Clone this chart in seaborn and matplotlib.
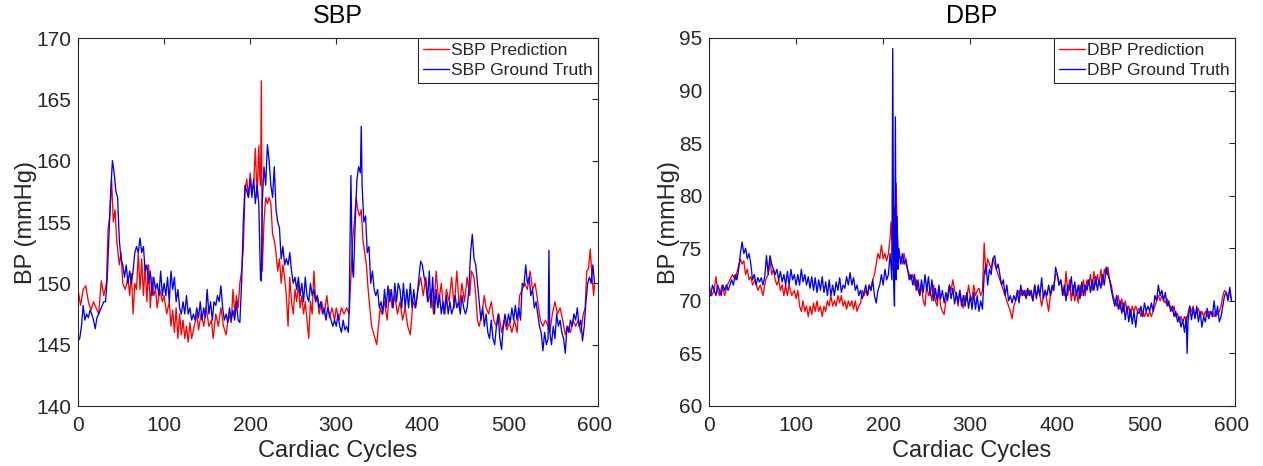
import matplotlib
matplotlib.use("Agg")
import matplotlib.pyplot as plt
import seaborn as sns
import pandas as pd

# ---------------- data (cycle, mmHg) ----------------
sbp_prediction = [
    (0,149.5),(3,148.2),(6,149.5),(9,149.8),(12,148.5),(15,147.8),(18,148.5),(21,148),(24,147.5),(27,150.2),
    (30,149),(33,150),(35,154.5),(37,155.5),(39,158.5),(41,155),(43,156),(45,153.5),(48,151.5),(50,152.5),
    (52,150),(55,149.5),(58,150.5),(60,149),(62,150.8),(64,147.5),(66,150),(68,149.5),(70,152.5),(72,149.5),
    (74,152),(76,149),(78,151.5),(80,148.5),(82,151.5),(84,148),(86,150.5),(88,149),(90,149.5),(92,148),
    (95,149.5),(98,148.5),(100,149),(103,147.5),(106,148.5),(108,146.5),(110,147.8),(112,146),(114,148),(116,145.5),
    (118,147.5),(120,145.8),(122,147),(124,145.5),(126,146.5),(128,145.2),(130,146.8),(132,145.5),(135,146.5),(138,147.5),
    (140,146.2),(143,147.5),(146,146.5),(149,148),(152,146.5),(155,147),(157,145.5),(160,147.5),(163,146.5),(166,148),
    (169,146.5),(172,145.8),(175,147.5),(178,146.8),(180,149.5),(182,147.5),(184,149),(186,148),(188,150),(190,151),
    (192,152.8),(194,157.5),(196,158.5),(198,157),(200,159),(202,157.5),(204,158),(206,161),(208,157),(210,161.2),
    (211,159),(212,158),(213,166.5),(214,151),(216,155),(218,157),(220,156.5),(222,157),(224,156.5),(226,154),
    (228,153.5),(230,152.5),(232,151),(234,152),(236,150),(238,151.5),(240,150.5),(242,149),(244,146.5),(246,150.5),
    (248,148.5),(250,147.5),(252,149.5),(254,148.5),(256,150),(258,148),(260,149),(262,147.5),(264,148.5),(266,147),
    (268,145.5),(270,148.5),(272,147.5),(274,151),(276,148.5),(278,149),(280,147.5),(283,148.5),(286,147.5),(289,149),
    (292,147.2),(295,148),(298,147),(300,148),(303,147),(306,148),(309,147.5),(312,148),(315,147.5),(317,150.5),
    (319,153.5),(321,155),(323,157),(325,156),(327,155.5),(329,156),(331,153.5),(333,152.5),(335,151.5),(337,149.5),
    (339,148),(341,146.5),(343,146),(345,145.5),(347,145),(349,146.5),(351,148),(353,147.5),(356,148.5),(359,147),
    (362,149.5),(365,148),(368,149),(371,147.5),(374,148.5),(377,147),(380,148),(383,146.5),(386,145.8),(389,148.5),
    (392,148),(395,149.5),(398,150.5),(401,149),(404,150.5),(407,148.5),(410,149.5),(413,147.5),(416,151),(419,148.5),
    (422,150),(425,147.5),(428,149.5),(431,148.5),(434,150.5),(437,148),(440,151),(443,148),(446,150),(449,148.5),
    (452,150.5),(455,149),(457,151),(460,150.5),(462,149),(464,147),(466,146.5),(469,147.5),(472,149),(474,148),
    (477,147.5),(480,148.5),(483,147),(486,146.5),(489,147.5),(492,146),(495,147),(498,146.2),(501,146.8),(504,146),
    (507,147),(510,146),(513,149),(516,149.5),(519,150),(522,149.5),(525,151),(528,149.5),(531,150),(534,148.5),
    (537,147),(540,146.5),(543,147),(546,146.5),(548,146),(551,147.5),(554,148.5),(557,147.5),(560,148),(563,147),
    (566,145.8),(569,146.5),(572,146),(575,147),(578,146.5),(581,147),(584,146),(587,147.5),(589,148),(591,151),
    (593,151.2),(595,152.8),(597,150.5),(599,149),(600,150),
]

sbp_ground_truth = [
    (0,145.3),(2,145.5),(4,146.5),(6,148.2),(8,147),(10,147.5),(12,147.2),(14,147.8),(16,147.5),(18,147),
    (20,146.3),(22,147.2),(24,147.5),(27,148),(30,148.5),(32,148.5),(34,150.5),(36,154),(38,157.5),(40,160),
    (42,159),(44,157.5),(46,157),(48,153.5),(50,152),(52,151.5),(54,150.5),(56,151.5),(58,150),(60,151),
    (62,150),(64,151),(66,152.5),(68,153),(70,152.5),(72,153.7),(74,152.5),(76,153),(78,151),(80,151.5),
    (82,150),(84,151),(86,149),(88,150.5),(90,149.5),(92,150),(94,149),(96,151),(98,149),(100,150),
    (102,149),(104,150.5),(106,148.5),(108,151),(110,149.5),(112,150.5),(114,148.5),(116,149.5),(118,148),(120,147.5),
    (122,148.5),(124,147.5),(126,149),(128,147.5),(130,148),(132,147),(134,147.5),(136,147),(138,148),(140,147.2),
    (142,148.5),(144,147),(146,148),(148,147.2),(150,149.5),(152,147.5),(154,148.5),(156,147),(158,148.5),(160,148.2),
    (162,149),(164,148.5),(166,149.8),(168,148),(170,147),(172,147.5),(174,146.8),(176,148),(178,147),(180,147.8),
    (182,147),(184,148.5),(186,147),(188,146.8),(190,150),(192,155),(194,158),(196,157.5),(198,157),(200,158.5),
    (202,157),(204,158.5),(206,156.5),(208,158),(210,156.5),(212,150.3),(213,150.2),(214,156.5),(216,159.5),(218,158),
    (220,161.3),(222,160),(224,158),(226,157),(228,159.5),(230,156),(232,155),(234,154.5),(236,152),(238,153),
    (240,151.5),(242,152),(244,151.5),(246,152.5),(248,151),(250,150),(252,150.5),(254,149.5),(256,150.5),(258,149),
    (260,150),(262,148.5),(264,150.5),(266,149),(268,148.5),(270,150),(272,149),(274,149.5),(276,148.5),(278,149),
    (280,148),(282,148.5),(284,147.5),(286,148),(288,147),(290,148),(292,147.5),(294,147),(296,146.5),(298,147),
    (300,146.5),(302,147.5),(304,146.5),(306,146),(308,147),(310,146.2),(312,146.5),(314,146),(315,148),(317,158.8),
    (318,154),(319,151),(320,150.5),(322,155),(324,158.5),(326,159.5),(328,159),(329,162.8),(330,158),(332,155),
    (334,155.5),(336,152.5),(338,153),(340,150),(342,151),(344,149.5),(346,149),(348,149.5),(350,148),(352,148.5),
    (354,147.5),(356,149.5),(358,148),(360,149.8),(362,148.5),(364,149.5),(366,148),(368,150),(370,148.5),(372,150),
    (374,149.5),(376,148),(378,150),(380,148),(382,149.5),(384,148),(386,150),(388,148),(390,149.5),(392,148),
    (394,149),(396,150.5),(398,151.8),(400,151.5),(402,150.5),(404,150),(406,148.5),(408,151),(410,148),(412,150.5),
    (414,147.5),(416,149.5),(418,148),(420,149),(422,147.5),(424,148.5),(426,147.5),(428,149),(430,147.5),(432,148.5),
    (434,147.5),(436,148),(438,149),(440,148),(442,148.5),(444,147.5),(446,149),(448,148),(450,147.5),(452,148),
    (454,149.5),(456,152.5),(458,154),(460,152),(462,151.5),(464,150),(466,148.5),(468,147),(470,148),(472,146.5),
    (474,147.5),(476,146),(478,145.5),(480,147),(482,145.5),(484,145),(486,146.5),(488,147.5),(490,145.5),(492,144.6),
    (494,146.5),(496,147.5),(498,146.5),(500,147.5),(502,146.8),(504,148),(506,147),(508,148.2),(510,147),(512,148),
    (514,147),(516,150),(518,149.8),(520,151.5),(522,150),(524,150.5),(526,149),(528,149.5),(530,148),(532,148.5),
    (534,147.5),(536,146.5),(538,146),(540,144.5),(542,146),(544,145),(546,145.5),(547,152.7),(548,146),(550,145),
    (552,146.5),(554,145.5),(556,147.5),(558,146.5),(560,147),(562,146),(564,145.5),(566,144.3),(568,146.5),(570,146),
    (572,147),(574,146.5),(576,147.5),(578,147),(580,148),(582,146.5),(584,147),(586,145.3),(588,146.5),(590,148.5),
    (592,150),(594,150.5),(596,150),(598,151.5),(600,150),
]

dbp_prediction = [
    (0,71.5),(3,70.5),(6,71),(8,72.3),(10,71),(12,70.5),(15,71.5),(18,70.5),(21,71.5),(24,72),
    (27,72.5),(30,72),(33,73),(36,74),(38,73.5),(40,73.8),(42,72.5),(44,73),(46,72),(48,72.3),
    (50,71.5),(53,72),(56,71),(59,71.5),(62,70.5),(65,72),(68,72.5),(70,74),(72,72.5),(74,73),
    (76,72),(78,71.5),(80,72),(82,71),(84,71.5),(86,70.5),(88,71.5),(90,70.5),(92,71.5),(95,70.5),
    (98,71),(100,70.2),(102,71),(104,69.5),(106,69),(108,70),(110,69),(112,69.5),(114,68.5),(116,69.5),
    (118,68.7),(120,69.8),(122,69),(124,70),(126,69),(128,69.5),(130,68.5),(132,69.5),(134,69),(136,70),
    (138,69.5),(140,70.5),(142,69.5),(144,70),(146,69.5),(148,70.5),(150,69.8),(152,70.5),(154,69.5),(156,70),
    (158,69.2),(160,70),(162,69.5),(164,70),(166,69.2),(168,70),(170,69),(172,69.5),(174,69.8),(176,71),
    (178,70.5),(180,71),(182,70.5),(184,71.5),(186,71),(188,72),(190,72.5),(192,73.5),(194,74.5),(196,74),
    (198,75.3),(200,74),(202,74.5),(204,73.8),(206,74.5),(208,76),(209,77.5),(210,76),(211,73),(212,74),
    (213,79),(214,75),(215,81.2),(216,77),(217,75),(218,74.5),(220,74),(222,73.5),(224,74.5),(226,73.5),
    (228,73),(230,72.5),(232,72),(234,72.5),(236,71.5),(238,72),(240,71),(242,70.5),(244,71.5),(246,70),
    (248,69.5),(250,71.5),(252,70.5),(254,71),(256,70),(258,71.5),(260,70),(262,69.5),(264,71),(266,69.5),
    (268,69),(270,68.7),(272,70),(274,70.5),(276,71.5),(278,71),(280,72),(282,71),(284,70.5),(286,69.5),
    (288,71),(290,70),(292,69.3),(294,70.5),(296,70),(298,71.5),(300,70.5),(302,70),(304,71.5),(306,70.5),
    (308,71),(310,71.2),(312,70.5),(314,71),(316,75.5),(318,72.5),(320,74),(322,73.5),(324,73),(326,74),
    (328,73.5),(330,73),(332,72.5),(334,72),(336,71.5),(338,71),(340,70.5),(342,70),(344,69.5),(346,69),
    (348,68.3),(350,69.5),(352,70),(354,70.5),(356,71),(358,70.5),(360,71),(362,70.5),(364,71),(366,70.5),
    (368,71),(370,70.5),(372,70),(374,71.5),(376,70.5),(378,71),(380,70.5),(382,69.5),(384,70.5),(386,71),
    (388,70),(390,69),(392,70.5),(394,71),(396,71.5),(398,72.5),(400,72.5),(402,71.5),(404,72),(406,71),
    (408,70.5),(410,72.8),(412,70.5),(414,72),(416,70),(418,71.5),(420,70),(422,71),(424,69.8),(426,71.5),
    (428,70.5),(430,72),(432,70.5),(434,72),(436,71.5),(438,72.5),(440,71),(442,72.8),(444,71.5),(446,72.5),
    (448,71.5),(450,73),(452,71.5),(454,73),(456,72.5),(458,73.2),(460,72),(462,71.5),(464,70.5),(466,70),
    (468,69.5),(470,70.5),(472,69.2),(474,70.2),(476,69),(478,70),(480,69),(482,69.5),(484,68.5),(486,69.5),
    (488,69),(490,69.5),(492,69),(494,69.3),(496,68.5),(498,69),(500,68.5),(502,69),(504,68.5),(506,69),
    (508,68.5),(510,69),(512,69.5),(514,70),(516,70.5),(518,70),(520,70.5),(522,70),(524,69.8),(526,70.2),
    (528,69.5),(530,69.5),(532,69),(534,69.5),(536,68.5),(538,68.8),(540,68),(542,68.5),(544,68),(546,68.5),
    (548,68),(550,68.8),(552,69.5),(554,69),(556,69.5),(558,68.5),(560,69),(562,69.3),(564,68.5),(566,69),
    (568,68.5),(570,69),(572,68.5),(574,69),(576,68.8),(578,69),(580,68.5),(582,69),(584,68.7),(586,69),
    (588,69.5),(590,70.5),(592,71),(594,70.8),(596,70.2),(598,71),(600,70),
]

dbp_ground_truth = [
    (0,70.5),(2,70.5),(4,71.5),(6,71),(8,70.5),(10,71.5),(12,71),(14,70.5),(16,71.5),(18,71),
    (20,71.5),(22,71),(24,71.5),(26,72),(28,71.5),(30,72.5),(32,72),(34,73),(36,74.5),(38,75.6),
    (40,74.5),(42,75),(44,74),(46,74.5),(48,73.5),(50,72),(52,72.5),(54,71.5),(56,72.2),(58,71.8),
    (60,72.2),(62,71.5),(64,72.3),(66,74.3),(68,72.5),(70,74.3),(72,73.5),(74,73),(76,72.5),(78,73),
    (80,72),(82,72.8),(84,71.8),(86,72.5),(88,71.5),(90,72.8),(92,71.5),(94,73),(96,72),(98,72.5),
    (100,71.5),(102,72.5),(104,71.5),(106,73),(108,71.8),(110,72.5),(112,71.5),(114,72.3),(116,71.2),(118,72.3),
    (120,71),(122,72.2),(124,70.8),(126,72),(128,71),(130,72.3),(132,70.8),(134,71.8),(136,70.5),(138,72),
    (140,70.5),(142,71.5),(144,70.5),(146,71.8),(148,71),(150,72.2),(152,70.8),(154,71.5),(156,71.2),(158,72.3),
    (160,71.5),(162,72.7),(164,71.5),(166,72.2),(168,71),(170,71.5),(172,70.5),(174,71),(176,70.2),(178,70.8),
    (180,71.5),(182,70.5),(184,71.5),(186,71),(188,72),(190,70.5),(192,69.8),(194,71),(196,71.5),(198,72.5),
    (200,71.5),(202,73),(204,72),(206,72.5),(208,74.5),(210,72),(211,94),(212,72),(213,69.5),(214,87.5),
    (215,72),(216,78),(217,73),(218,75),(220,73.5),(222,74.5),(224,73.5),(226,74),(228,73),(230,72),
    (232,72.5),(234,71.5),(236,72.5),(238,71),(240,72),(242,70.5),(244,72),(246,70.8),(248,72.5),(250,71),
    (252,72.3),(254,70.5),(256,72),(258,70),(260,71.2),(262,70),(264,71.5),(266,70.2),(268,71),(270,69.8),
    (272,70.8),(274,70),(276,71.5),(278,70.2),(280,71.2),(282,69.7),(284,70.8),(286,69.8),(288,71),(290,69.5),
    (292,70.5),(294,69.5),(296,70.8),(298,69.3),(300,70.5),(302,69.2),(304,70.8),(306,69.2),(308,70.5),(310,69),
    (312,70),(314,69.2),(316,72.5),(318,73.5),(320,71.5),(322,73),(324,72.5),(326,74),(328,74.3),(330,73),
    (332,73.5),(334,72.5),(336,71.5),(338,72),(340,70.5),(342,71.5),(344,70),(346,70.5),(348,69.8),(350,70.5),
    (352,70),(354,71),(356,69.8),(358,71.5),(360,70.5),(362,71),(364,70.2),(366,71.2),(368,70.5),(370,71),
    (372,70),(374,71.5),(376,70.2),(378,71.5),(380,70.5),(382,72.2),(384,70.2),(386,71),(388,70.5),(390,71.5),
    (392,70.5),(394,71.5),(396,71),(398,73.2),(400,72.5),(402,71.5),(404,72),(406,70.5),(408,71.5),(410,70),
    (412,71.5),(414,71),(416,72.3),(418,70.5),(420,71.8),(422,70.5),(424,71.5),(426,70.2),(428,71.8),(430,70.5),
    (432,71.5),(434,71),(436,72),(438,70.8),(440,72),(442,71),(444,72.3),(446,71),(448,72),(450,71.2),
    (452,72.5),(454,71.5),(456,73.2),(458,72.5),(460,72),(462,71),(464,70.2),(466,69.5),(468,70.5),(470,69.2),
    (472,70),(474,68.8),(476,69.8),(478,68.2),(480,69.5),(482,68),(484,69.2),(486,67.8),(488,69),(490,67.5),
    (492,69),(494,68.8),(496,69.5),(498,68.5),(500,69.8),(502,69),(504,69.5),(506,69),(508,69.8),(510,69),
    (512,70.5),(514,70),(516,71.5),(518,70.5),(520,71),(522,70),(524,70.8),(526,69.5),(528,70),(530,69),
    (532,69.5),(534,68.5),(536,69),(538,68),(540,68.5),(542,67.5),(544,68.2),(546,67),(548,68.5),(549,65),
    (550,68),(552,69.5),(554,68.2),(556,69.3),(558,68.3),(560,69.5),(562,68),(564,69),(566,67.5),(568,68.5),
    (570,68),(572,69.3),(574,68.3),(576,69),(578,68.5),(580,70),(582,68.5),(584,69.5),(586,68),(588,68.5),
    (590,69.5),(592,70.5),(594,70.8),(596,70),(598,71.3),(600,70),
]

titles = ["SBP", "DBP"]
x_label = "Cardiac Cycles"
y_label = "BP (mmHg)"
x_ticks = [0, 100, 200, 300, 400, 500, 600]
sbp_y_ticks = [140, 145, 150, 155, 160, 165, 170]
dbp_y_ticks = [60, 65, 70, 75, 80, 85, 90, 95]

# ---------------- styling ----------------
sns.set_style("white")
plt.rcParams["font.family"] = ["Liberation Sans", "DejaVu Sans"]
AX_COLOR = "#262626"
RED = "#ff0000"
BLUE = "#0000f0"

fig = plt.figure(figsize=(12.63, 4.66), dpi=100)
W, H = 1263, 466
ax_l = fig.add_axes([78 / W, 1 - 406 / H, (598 - 78) / W, (406 - 38) / H])
ax_r = fig.add_axes([709 / W, 1 - 406 / H, (1235 - 709) / W, (406 - 38) / H])


def to_df(pairs):
    return pd.DataFrame(pairs, columns=["cycle", "mmHg"])


panels = [
    (ax_l, titles[0], sbp_prediction, sbp_ground_truth, sbp_y_ticks),
    (ax_r, titles[1], dbp_prediction, dbp_ground_truth, dbp_y_ticks),
]

for ax, name, pred, truth, yt in panels:
    sns.lineplot(data=to_df(pred), x="cycle", y="mmHg", ax=ax, color=RED,
                 linewidth=0.95, label=f"{name} Prediction")
    sns.lineplot(data=to_df(truth), x="cycle", y="mmHg", ax=ax, color=BLUE,
                 linewidth=0.95, label=f"{name} Ground Truth")
    ax.set_xlim(0, 604)
    ax.set_ylim(yt[0], yt[-1])
    ax.set_xticks(x_ticks)
    ax.set_yticks(yt)
    ax.set_title(name, fontsize=18, color="black", pad=11)
    ax.set_xlabel(x_label, fontsize=17, color=AX_COLOR, labelpad=4)
    ax.set_ylabel(y_label, fontsize=17, color=AX_COLOR, labelpad=-1)
    ax.tick_params(axis="both", direction="in", length=4, width=0.8,
                   labelsize=15, colors=AX_COLOR, top=True, right=True)
    ax.tick_params(axis="x", pad=7)
    ax.tick_params(axis="y", pad=5)
    for s in ax.spines.values():
        s.set_color(AX_COLOR)
        s.set_linewidth(0.8)
        s.set_visible(True)
    leg = ax.legend(loc="upper right", borderaxespad=0, fancybox=False,
                    framealpha=1, edgecolor=AX_COLOR, fontsize=12.5,
                    handlelength=1.5, handletextpad=0.1, borderpad=0.3,
                    labelspacing=0.25)
    leg.get_frame().set_linewidth(0.8)

fig.savefig("out.png", dpi=100)
